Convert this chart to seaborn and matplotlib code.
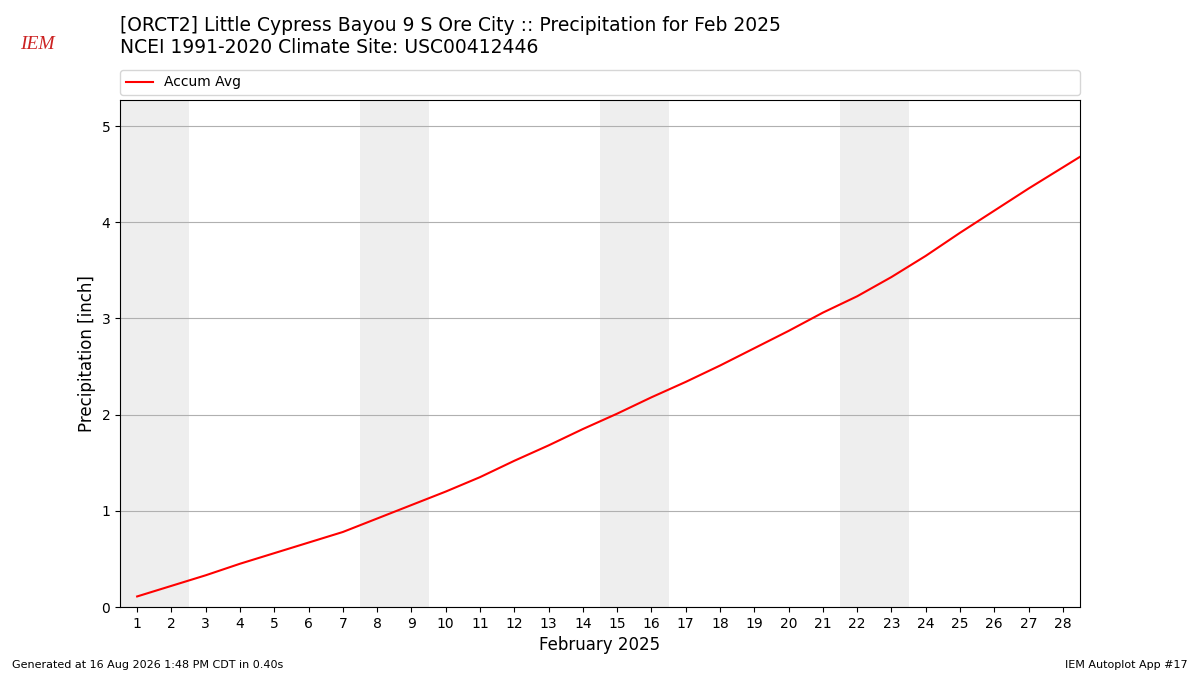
import numpy as np
import pandas as pd
import matplotlib
matplotlib.use("Agg")
import matplotlib.pyplot as plt
import seaborn as sns

# ---- data ----
days = list(range(1, 30))
accum_avg = [0.11, 0.22, 0.33, 0.45, 0.56, 0.67, 0.78, 0.92, 1.06, 1.20,
             1.35, 1.52, 1.68, 1.85, 2.01, 2.18, 2.34, 2.51, 2.69, 2.87,
             3.06, 3.23, 3.43, 3.65, 3.89, 4.12, 4.35, 4.57, 4.79]
weekend_days = [1, 2, 8, 9, 15, 16, 22, 23]
tick_days = list(range(1, 29))

title = ("[ORCT2] Little Cypress Bayou 9 S Ore City :: Precipitation for Feb 2025\n"
         "NCEI 1991-2020 Climate Site: USC00412446")

df = pd.DataFrame({"day": days, "Accum Avg": accum_avg})

fig = plt.figure(figsize=(12, 6.75), dpi=100)
ax = fig.add_axes([0.1, 0.1007, 0.8, 0.7511])

for d in weekend_days:
    ax.axvspan(d - 0.5, d + 0.5, color="#eeeeee", lw=0, zorder=0)

sns.lineplot(data=df, x="day", y="Accum Avg", color="red", lw=1.5,
             label="Accum Avg", ax=ax, zorder=3)

ax.set_xlim(0.5, 28.5)
ax.set_ylim(0, 5.27)
ax.set_xticks(tick_days)
ax.set_xticklabels([str(d) for d in tick_days])
ax.set_yticks([0, 1, 2, 3, 4, 5])
ax.yaxis.grid(True, color="#b0b0b0", lw=0.8)
ax.xaxis.grid(False)
ax.set_axisbelow(True)
ax.set_xlabel("February 2025", fontsize=12)
ax.set_ylabel("Precipitation [inch]", fontsize=12)

ax.legend(loc="lower left", bbox_to_anchor=(0, 1.01, 1, 0.05), mode="expand",
          borderaxespad=0, fontsize=10, ncol=1, frameon=True)

fig.text(0.1, 0.976, title, fontsize=13.5, va="top", ha="left")
fig.text(0.01, 0.008, "Generated at 16 Aug 2026 1:48 PM CDT in 0.40s", fontsize=8,
         ha="left", va="bottom")
fig.text(0.99, 0.008, "IEM Autoplot App #17", fontsize=8, ha="right", va="bottom")
fig.text(0.031, 0.934, "IEM", fontsize=14, color="#cc2222", family="Liberation Serif",
         style="italic", ha="center", va="center")

fig.savefig("out.png", dpi=100)
